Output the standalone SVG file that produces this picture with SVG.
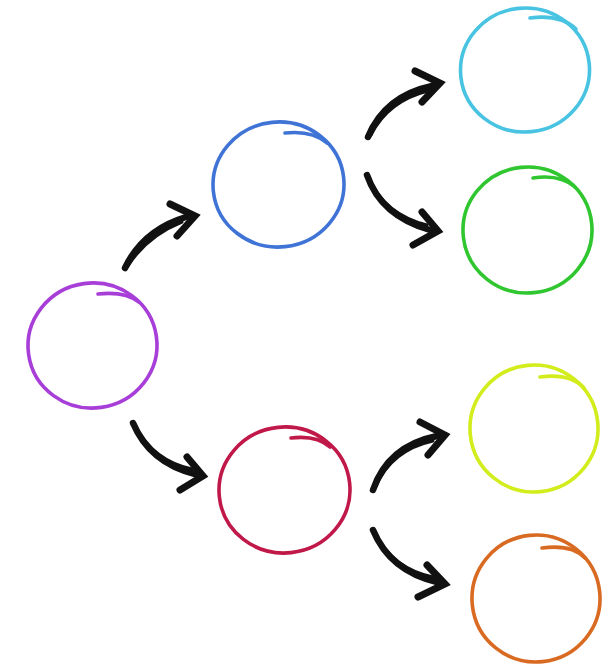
<svg xmlns="http://www.w3.org/2000/svg" width="602" height="667" viewBox="0 0 602 667">
<style>
.c{fill:none;stroke-width:3.6;stroke-linecap:round;stroke-linejoin:round}
.s{fill:none;stroke:#111;stroke-width:6.5;stroke-linecap:round}
.s2{fill:none;stroke:#111;stroke-width:3;stroke-linecap:round}
.h{fill:none;stroke:#111;stroke-width:7;stroke-linecap:round;stroke-linejoin:miter;stroke-miterlimit:6}
</style>
<rect width="602" height="667" fill="#fff"/>
<g id="node-purple" class="c" stroke="#a83ed8">
<ellipse cx="92.5" cy="345.5" rx="64.5" ry="62.5" transform="rotate(-8 92.5 345.5)"/>
<path d="M98,294 Q125,291 139,302"/>
</g>
<g id="node-blue" class="c" stroke="#3f74d6">
<ellipse cx="278.5" cy="184.5" rx="65.5" ry="62.5" transform="rotate(-6 278.5 184.5)"/>
<path d="M285,133 Q312,130 327,143"/>
</g>
<g id="node-cyan" class="c" stroke="#48c3e2">
<ellipse cx="525" cy="70" rx="64.5" ry="62" transform="rotate(-6 525 70)"/>
<path d="M530,18 Q560,14 576,29"/>
</g>
<g id="node-green" class="c" stroke="#2fc62f">
<ellipse cx="527.5" cy="230" rx="64.5" ry="63" transform="rotate(-6 527.5 230)"/>
<path d="M533,178 Q560,174 575,187"/>
</g>
<g id="node-red" class="c" stroke="#c01848">
<ellipse cx="284.5" cy="490" rx="65.5" ry="63" transform="rotate(-6 284.5 490)"/>
<path d="M291,438 Q317,435 330,447"/>
</g>
<g id="node-yellow" class="c" stroke="#d2ec1c">
<ellipse cx="534" cy="428.5" rx="64" ry="63.5" transform="rotate(-6 534 428.5)"/>
<path d="M540,377 Q570,373 584,388"/>
</g>
<g id="node-orange" class="c" stroke="#d86a22">
<ellipse cx="536" cy="598.5" rx="64" ry="63.5" transform="rotate(-6 536 598.5)"/>
<path d="M542,548 Q572,544 585,558"/>
</g>
<g id="connectors">
<path class="s" d="M125,268 Q143,230 186,217"/>
<path class="s2" d="M128,266 Q147,236 182,222"/>
<path class="h" d="M170,204 L195,216 L177,236"/>

<path class="s" d="M368,137 Q385,96 432,86"/>
<path class="s2" d="M371,135 Q388,101 428,91"/>
<path class="h" d="M415,71 L440,83 L422,102"/>

<path class="s" d="M367,175 Q381,216 430,230"/>
<path class="s2" d="M370,180 Q385,214 427,225"/>
<path class="h" d="M422,212 L438,231 L413,245"/>

<path class="s" d="M133,423 Q150,463 195,474"/>
<path class="s2" d="M136,427 Q154,461 192,469"/>
<path class="h" d="M187,457 L203,476 L180,490"/>

<path class="s" d="M373,490 Q388,446 437,436"/>
<path class="s2" d="M376,486 Q392,450 433,441"/>
<path class="h" d="M420,422 L445,435 L428,455"/>

<path class="s" d="M373,530 Q390,571 437,582"/>
<path class="s2" d="M376,535 Q394,569 433,577"/>
<path class="h" d="M427,565 L445,584 L418,597"/>
</g>
</svg>
